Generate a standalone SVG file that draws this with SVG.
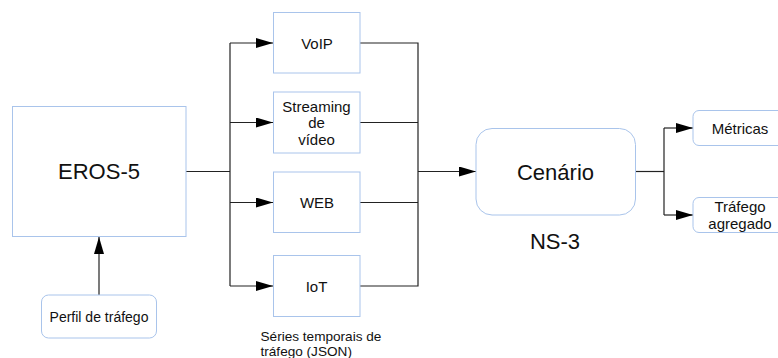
<svg xmlns="http://www.w3.org/2000/svg" width="778" height="358" viewBox="0 0 778 358">
<style>
.box{fill:#fff;stroke:#a9c4eb;stroke-width:1}
.t{font-family:"Liberation Sans",Arial,sans-serif;fill:#111;text-anchor:middle}
.s14{font-size:14px}
.s15{font-size:15px}
.s22{font-size:22px}
.ln{fill:none;stroke:#222;stroke-width:1.2}
</style>
<defs>
<marker id="ah" markerWidth="17" markerHeight="10" refX="17" refY="5" orient="auto" markerUnits="userSpaceOnUse">
<path d="M0,0 L17,5 L0,10 Z" fill="#000"/>
</marker>
</defs>
<rect width="778" height="358" fill="#fff"/>
<g id="connectors">
<path class="ln" d="M186,171.5 H230"/>
<path class="ln" d="M230,43 V286"/>
<path class="ln" d="M230,43 H273" marker-end="url(#ah)"/>
<path class="ln" d="M230,122.5 H273" marker-end="url(#ah)"/>
<path class="ln" d="M230,202.5 H273" marker-end="url(#ah)"/>
<path class="ln" d="M230,286 H273" marker-end="url(#ah)"/>
<path class="ln" d="M360,43 H418 V286 H360"/>
<path class="ln" d="M360,122.5 H418"/>
<path class="ln" d="M360,202.5 H418"/>
<path class="ln" d="M418,171.5 H476" marker-end="url(#ah)"/>
<path class="ln" d="M636,171.5 H664"/>
<path class="ln" d="M664,128 V215"/>
<path class="ln" d="M664,128 H693" marker-end="url(#ah)"/>
<path class="ln" d="M664,215 H693" marker-end="url(#ah)"/>
<path class="ln" d="M99,295 V237" marker-end="url(#ah)"/>
</g>
<g id="eros5">
<rect class="box" x="12.5" y="106.5" width="173.5" height="130"/>
<text class="t s22" x="99" y="179">EROS-5</text>
</g>
<g id="voip">
<rect class="box" x="273.5" y="12.5" width="86.5" height="60.5"/>
<text class="t s15" x="317" y="48.5">VoIP</text>
</g>
<g id="streaming">
<rect class="box" x="273.5" y="92" width="86.5" height="61"/>
<text class="t s15" x="316.5" y="111.5">Streaming</text>
<text class="t s15" x="316.5" y="128">de</text>
<text class="t s15" x="316.5" y="144.5">vídeo</text>
</g>
<g id="web">
<rect class="box" x="273.5" y="172" width="86.5" height="60.5"/>
<text class="t s15" x="317" y="208">WEB</text>
</g>
<g id="iot">
<rect class="box" x="273.5" y="255.5" width="86.5" height="61"/>
<text class="t s15" x="316.5" y="291.5">IoT</text>
</g>
<g id="series-label">
<text class="t" style="font-size:13.6px;text-anchor:start" x="260.5" y="341">Séries temporais de</text>
<text class="t" style="font-size:13.6px;text-anchor:start" x="260.5" y="356">tráfego (JSON)</text>
</g>
<g id="cenario">
<rect class="box" x="476" y="128.5" width="159.5" height="86.5" rx="16" ry="16"/>
<text class="t s22" x="555.5" y="179.5">Cenário</text>
</g>
<g id="ns3">
<text class="t s22" x="555" y="249">NS-3</text>
</g>
<g id="metricas">
<rect class="box" x="693" y="110.5" width="95" height="35" rx="6" ry="6"/>
<text class="t s15" x="740" y="133.5">Métricas</text>
</g>
<g id="trafego-agregado">
<rect class="box" x="693" y="197.5" width="95" height="35" rx="6" ry="6"/>
<text class="t s15" x="740" y="212">Tráfego</text>
<text class="t s15" x="740" y="229">agregado</text>
</g>
<g id="perfil">
<rect class="box" x="41.5" y="295" width="115" height="43" rx="7" ry="7"/>
<text class="t s14" x="99" y="322">Perfil de tráfego</text>
</g>
</svg>
